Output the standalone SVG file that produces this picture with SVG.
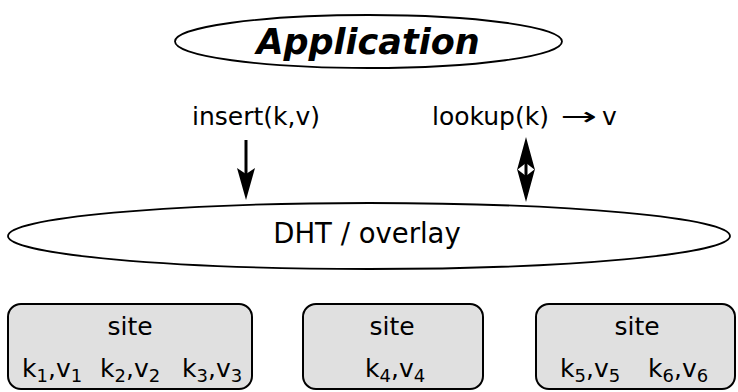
<svg xmlns="http://www.w3.org/2000/svg" width="738" height="392" viewBox="0 0 738 392">
<style>
text{font-family:"DejaVu Sans","Liberation Sans",sans-serif;fill:#000;}
.t{font-size:25px;}
.sub{font-size:18px;}
.ell{fill:#fff;stroke:#000;stroke-width:1.8;}
.box{fill:#e0e0e0;stroke:#000;stroke-width:2;}
.shaft{stroke:#000;stroke-width:3;fill:none;}
</style>
<defs>
<marker id="h1" markerUnits="userSpaceOnUse" markerWidth="32" markerHeight="20" viewBox="0 0 32 20" refX="20" refY="10" orient="auto-start-reverse">
<path d="M0,1 L32,10 L0,19 L6,10 Z" fill="#000"/>
</marker>
<marker id="h2" markerUnits="userSpaceOnUse" markerWidth="33" markerHeight="20" viewBox="0 0 33 20" refX="20" refY="10" orient="auto-start-reverse">
<path d="M0,1 L33,10 L0,19 L7,10 Z" fill="#000"/>
</marker>
</defs>

<g id="application">
<ellipse class="ell" cx="368.5" cy="41.5" rx="193.5" ry="26.5"/>
<text x="368" y="54" text-anchor="middle" style="font-size:35px;font-weight:bold;font-style:italic">Application</text>
</g>

<g id="labels">
<text class="t" x="192" y="125">insert(k,v)</text>
<text class="t" x="432" y="125">lookup(k)</text>
<text class="t" transform="translate(560,125) scale(1.75,1)">→</text>
<text class="t" x="602" y="125">v</text>
</g>

<g id="connectors">
<line class="shaft" x1="246" y1="140" x2="246" y2="188" marker-end="url(#h1)"/>
<line class="shaft" x1="526" y1="150" x2="526" y2="189" marker-start="url(#h2)" marker-end="url(#h2)"/>
</g>

<g id="dht">
<ellipse class="ell" cx="369" cy="236" rx="361" ry="33"/>
<text x="367" y="243" text-anchor="middle" style="font-size:27.5px">DHT / overlay</text>
</g>

<g id="site1">
<rect class="box" x="8" y="304" width="244" height="85" rx="13"/>
<text class="t" x="130" y="335" text-anchor="middle">site</text>
<text class="t" x="22" y="377">k<tspan class="sub" dy="5">1</tspan><tspan dy="-5">,v</tspan><tspan class="sub" dy="5">1</tspan></text>
<text class="t" x="100" y="377">k<tspan class="sub" dy="5">2</tspan><tspan dy="-5">,v</tspan><tspan class="sub" dy="5">2</tspan></text>
<text class="t" x="182" y="377">k<tspan class="sub" dy="5">3</tspan><tspan dy="-5">,v</tspan><tspan class="sub" dy="5">3</tspan></text>
</g>

<g id="site2">
<rect class="box" x="303" y="304" width="180" height="85" rx="13"/>
<text class="t" x="392" y="335" text-anchor="middle">site</text>
<text class="t" x="365" y="377">k<tspan class="sub" dy="5">4</tspan><tspan dy="-5">,v</tspan><tspan class="sub" dy="5">4</tspan></text>
</g>

<g id="site3">
<rect class="box" x="536" y="304" width="199" height="85" rx="13"/>
<text class="t" x="637" y="335" text-anchor="middle">site</text>
<text class="t" x="560" y="377">k<tspan class="sub" dy="5">5</tspan><tspan dy="-5">,v</tspan><tspan class="sub" dy="5">5</tspan></text>
<text class="t" x="648" y="377">k<tspan class="sub" dy="5">6</tspan><tspan dy="-5">,v</tspan><tspan class="sub" dy="5">6</tspan></text>
</g>
</svg>
